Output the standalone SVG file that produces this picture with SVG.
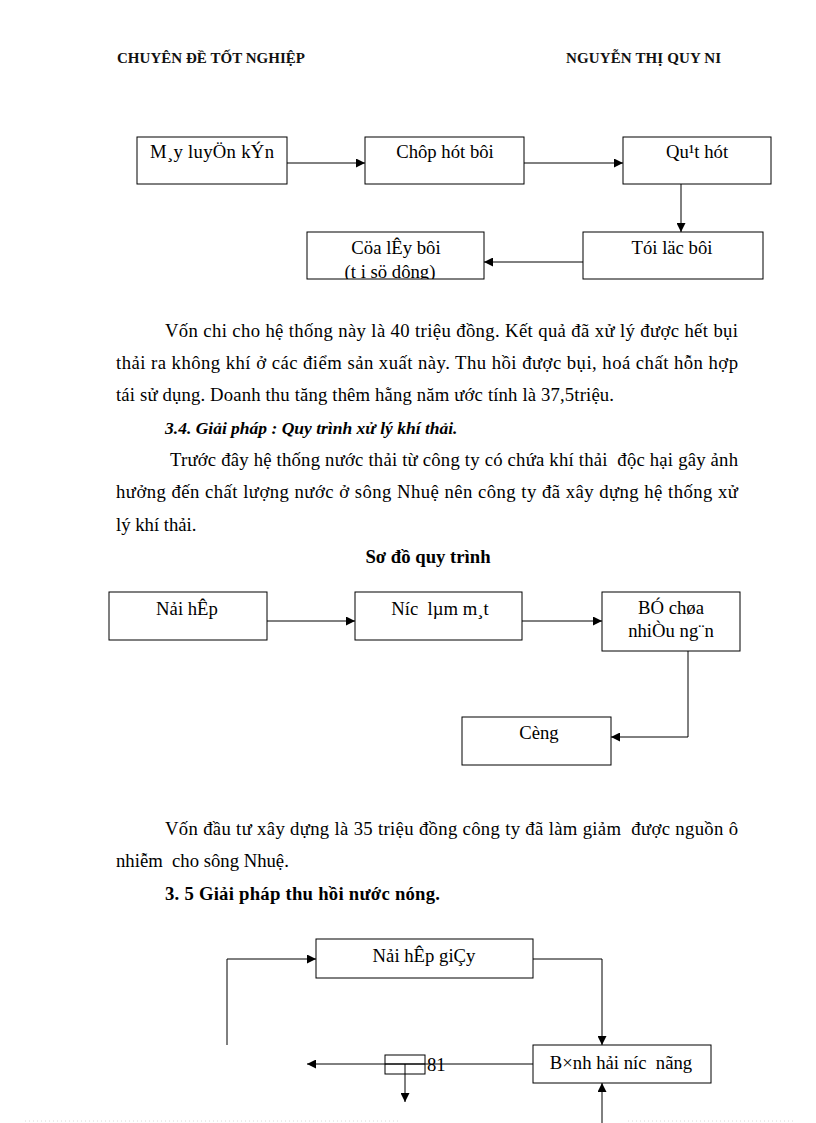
<svg xmlns="http://www.w3.org/2000/svg" width="816" height="1123" viewBox="0 0 816 1123">
<style>
.t{font-family:"Liberation Serif","Times New Roman",serif;font-size:18.7px;fill:#000;white-space:pre}
.c{text-anchor:middle}
.b{font-weight:bold}
.bi{font-weight:bold;font-style:italic}
.hdr{font-family:"Liberation Serif","Times New Roman",serif;font-size:15px;font-weight:bold;fill:#111}
.box{fill:#fff;stroke:#000;stroke-width:1}
.conn{fill:none;stroke:#000;stroke-width:1}
.dot{stroke:#d8d8d8;stroke-width:1;stroke-dasharray:1 3}
</style>
<defs>
<marker id="ah" viewBox="0 0 10 10" refX="10" refY="5" markerWidth="9" markerHeight="9" markerUnits="userSpaceOnUse" orient="auto">
<path d="M0,0 L10,5 L0,10 z" fill="#000"/>
</marker>
<clipPath id="clip5"><rect x="307" y="232" width="177" height="47"/></clipPath>
</defs>
<rect width="816" height="1123" fill="#fff"/>
<g id="header">
<text class="hdr" x="117" y="63" textLength="188">CHUYÊN ĐỀ TỐT NGHIỆP</text>
<text class="hdr" x="566" y="63" textLength="155">NGUYỄN THỊ QUY NI</text>
</g>
<g id="connectors">
<line class="conn" x1="287" y1="163" x2="365" y2="163" marker-end="url(#ah)"/>
<line class="conn" x1="524" y1="163" x2="623" y2="163" marker-end="url(#ah)"/>
<line class="conn" x1="681" y1="184" x2="681" y2="232" marker-end="url(#ah)"/>
<line class="conn" x1="583" y1="262" x2="484" y2="262" marker-end="url(#ah)"/>
<line class="conn" x1="267" y1="621" x2="355" y2="621" marker-end="url(#ah)"/>
<line class="conn" x1="522" y1="621" x2="602" y2="621" marker-end="url(#ah)"/>
<path class="conn" d="M688,651 V737 H611" marker-end="url(#ah)"/>
<path class="conn" d="M227,1045 V959 H316" marker-end="url(#ah)"/>
<path class="conn" d="M533,959 H602 V1045" marker-end="url(#ah)"/>
<line class="conn" x1="533" y1="1064" x2="307" y2="1064" marker-end="url(#ah)"/>
<line class="conn" x1="405" y1="1064" x2="405" y2="1102" marker-end="url(#ah)"/>
<line class="conn" x1="602" y1="1123" x2="602" y2="1083" marker-end="url(#ah)"/>
</g>
<g id="n1"><rect class="box" x="137" y="137" width="150" height="47"/><text class="t" x="150" y="158" textLength="124">M¸y luyÖn kÝn</text></g>
<g id="n2"><rect class="box" x="365" y="137" width="159" height="47"/><text class="t c" x="445" y="158">Chôp hót bôi</text></g>
<g id="n3"><rect class="box" x="623" y="137" width="148" height="47"/><text class="t c" x="697" y="158">Qu¹t hót</text></g>
<g id="n4"><rect class="box" x="583" y="232" width="180" height="47"/><text class="t c" x="672" y="254">Tói läc bôi</text></g>
<g id="n5"><rect class="box" x="307" y="232" width="177" height="47"/><g clip-path="url(#clip5)"><text class="t c" x="396" y="254">Cöa lÊy bôi</text><text class="t c" x="390" y="278">(t i sö dông)</text></g></g>
<g id="para1">
<text class="t" x="165" y="337" textLength="573" lengthAdjust="spacing">Vốn chi cho hệ thống này là 40 triệu đồng. Kết quả đã xử lý được hết bụi</text>
<text class="t" x="116" y="369" textLength="622" lengthAdjust="spacing">thải ra không khí ở các điểm sản xuất này. Thu hồi được bụi, hoá chất hỗn hợp</text>
<text class="t" x="116" y="401" textLength="498" lengthAdjust="spacing">tái sử dụng. Doanh thu tăng thêm hằng năm ước tính là 37,5triệu.</text>
<text class="t bi" x="165" y="434" style="font-size:17.5px">3.4. Giải pháp : Quy trình xử lý khí thải.</text>
<text class="t" x="170" y="466" textLength="568" lengthAdjust="spacing">Trước đây hệ thống nước thải từ công ty có chứa khí thải  độc hại gây ảnh</text>
<text class="t" x="116" y="498" textLength="622" lengthAdjust="spacing">hưởng đến chất lượng nước ở sông Nhuệ nên công ty đã xây dựng hệ thống xử</text>
<text class="t" x="116" y="531">lý khí thải.</text>
<text class="t b c" x="428" y="563">Sơ đồ quy trình</text>
</g>
<g id="m1"><rect class="box" x="109" y="592" width="158" height="48"/><text class="t c" x="187" y="615">Nải hÊp</text></g>
<g id="m2"><rect class="box" x="355" y="592" width="167" height="48"/><text class="t c" x="440" y="615">Níc  lµm m¸t</text></g>
<g id="m3"><rect class="box" x="602" y="592" width="138" height="59"/><text class="t c" x="671" y="614">BÓ chøa</text><text class="t c" x="671" y="637">nhiÒu ng¨n</text></g>
<g id="m4"><rect class="box" x="462" y="717" width="149" height="48"/><text class="t c" x="539" y="739">Cèng</text></g>
<g id="para3">
<text class="t" x="165" y="835" textLength="573" lengthAdjust="spacing">Vốn đầu tư xây dựng là 35 triệu đồng công ty đã làm giảm  được nguồn ô</text>
<text class="t" x="116" y="867">nhiễm  cho sông Nhuệ.</text>
<text class="t b" x="165" y="900" textLength="275" lengthAdjust="spacing">3. 5 Giải pháp thu hồi nước nóng.</text>
</g>
<g id="k1"><rect class="box" x="316" y="939" width="217" height="39"/><text class="t c" x="424" y="962">Nải hÊp giÇy</text></g>
<g id="k2"><rect class="box" x="533" y="1045" width="178" height="38"/><text class="t c" x="621" y="1069">B×nh hải níc  nãng</text></g>
<g id="k3"><rect class="conn" x="385" y="1055" width="40" height="19"/><line class="conn" x1="385" y1="1064" x2="425" y2="1064"/></g>
<g id="pagenum"><text class="t" x="427" y="1071">81</text></g>
<g id="footer">
<line class="dot" x1="25" y1="1121" x2="400" y2="1121"/>
<line class="dot" x1="628" y1="1121" x2="795" y2="1121"/>
</g>
</svg>
